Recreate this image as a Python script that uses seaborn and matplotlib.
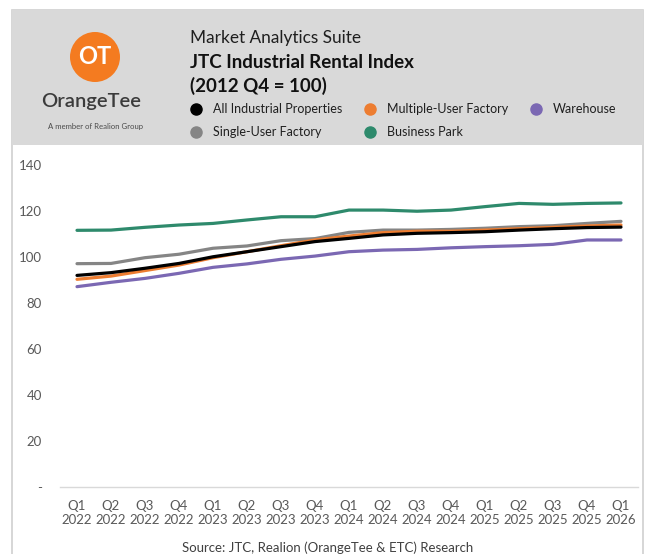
import matplotlib
matplotlib.use("Agg")
import matplotlib.pyplot as plt
from matplotlib.patches import Rectangle, Ellipse
from matplotlib.lines import Line2D
import seaborn as sns
import pandas as pd

# ---- data ----
quarters = ["Q1\n2022", "Q2\n2022", "Q3\n2022", "Q4\n2022",
            "Q1\n2023", "Q2\n2023", "Q3\n2023", "Q4\n2023",
            "Q1\n2024", "Q2\n2024", "Q3\n2024", "Q4\n2024",
            "Q1\n2025", "Q2\n2025", "Q3\n2025", "Q4\n2025",
            "Q1\n2026"]
all_industrial = [92.0, 93.2, 95.1, 97.2, 100.1, 102.3, 104.5, 106.7,
                  108.1, 109.6, 110.3, 110.6, 111.0, 111.7, 112.3, 112.8, 113.0]
multiple_user = [90.3, 91.7, 94.1, 96.5, 99.7, 102.3, 104.9, 107.4,
                 109.1, 110.6, 111.2, 111.2, 111.7, 112.3, 112.9, 113.5, 113.9]
warehouse = [87.1, 89.0, 90.7, 92.9, 95.5, 97.0, 99.0, 100.4,
             102.3, 103.0, 103.3, 104.0, 104.5, 104.9, 105.5, 107.4, 107.4]
single_user = [97.1, 97.2, 99.7, 101.2, 103.8, 104.8, 107.1, 108.0,
               110.7, 111.7, 111.7, 112.0, 112.5, 113.2, 113.6, 114.6, 115.5]
business_park = [111.6, 111.7, 112.9, 113.9, 114.6, 116.1, 117.5, 117.5,
                 120.4, 120.4, 119.9, 120.4, 121.9, 123.3, 122.9, 123.3, 123.5]

series_names = ["Business Park", "Single-User Factory", "Warehouse",
                "Multiple-User Factory", "All Industrial Properties"]
series_values = [business_park, single_user, warehouse, multiple_user, all_industrial]
colors = {"All Industrial Properties": "#000000",
          "Multiple-User Factory": "#ED7D31",
          "Warehouse": "#7B68B3",
          "Single-User Factory": "#858585",
          "Business Park": "#2E8A6C"}
y_ticks = [0, 20, 40, 60, 80, 100, 120, 140]
y_tick_labels = ["-", "20", "40", "60", "80", "100", "120", "140"]

rows = []
for name, vals in zip(series_names, series_values):
    for q, v in zip(quarters, vals):
        rows.append({"Quarter": q, "Index": v, "Series": name})
df = pd.DataFrame(rows)

sns.set_theme(style="white")
plt.rcParams["font.family"] = ["Lato", "DejaVu Sans"]

W, H = 648, 554
fig = plt.figure(figsize=(W / 100, H / 100), dpi=100)
fig.patch.set_facecolor("white")

def fx(x):
    return x / W

def fy(y):
    return 1 - y / H

# card and header
fig.patches.append(Rectangle((fx(12), -0.01), fx(631), fy(10) + 0.01,
                             transform=fig.transFigure, facecolor="white",
                             edgecolor="#cfcfcf", linewidth=1.2, zorder=-2))
fig.patches.append(Rectangle((fx(12), fy(145)), fx(631), (145 - 10) / H,
                             transform=fig.transFigure, facecolor="#d9d9d9",
                             edgecolor="none", zorder=-1))

# logo
fig.patches.append(Ellipse((fx(95), fy(57)), 50 / W, 50 / H, transform=fig.transFigure,
                           facecolor="#F47B20", edgecolor="none", zorder=1))
fig.text(fx(95), fy(57), "OT", color="white", fontsize=17, fontweight="bold",
         ha="center", va="center", zorder=2)
fig.text(fx(91), fy(101), "OrangeTee", color="#3b3b3b", fontsize=14.5,
         fontweight="semibold", ha="center", va="center")
fig.text(fx(95), fy(126), "A member of Realion Group", color="#4a4a4a",
         fontsize=5.6, ha="center", va="center")

# titles
fig.text(fx(190), fy(38), "Market Analytics Suite", color="#1f1f1f",
         fontsize=12.4, ha="left", va="center")
fig.text(fx(190), fy(62), "JTC Industrial Rental Index", color="#111111",
         fontsize=13.5, fontweight="bold", ha="left", va="center")
fig.text(fx(190), fy(86), "(2012 Q4 = 100)", color="#111111",
         fontsize=13.5, fontweight="bold", ha="left", va="center")

# main axes
ax = fig.add_axes([fx(60), fy(487), (638 - 60) / W, (487 - 165) / H], zorder=2)
ax.patch.set_alpha(0)
sns.lineplot(data=df, x="Quarter", y="Index", hue="Series",
             hue_order=series_names, palette=colors, linewidth=2.3,
             legend=False, ax=ax, sort=False)
ax.set_xlim(-0.5, len(quarters) - 0.5)
ax.set_ylim(0, 140)
ax.set_yticks(y_ticks)
ax.set_yticklabels(y_tick_labels)
ax.set_xlabel("")
ax.set_ylabel("")
for s in ["top", "right", "left"]:
    ax.spines[s].set_visible(False)
ax.spines["bottom"].set_color("#d9d9d9")
ax.spines["bottom"].set_linewidth(1.0)
ax.tick_params(axis="both", length=0, labelsize=9.5, colors="#595959")
ax.tick_params(axis="y", pad=13)
ax.tick_params(axis="x", pad=9)
for lbl in ax.get_xticklabels():
    lbl.set_linespacing(1.25)
ax.grid(False)

# legend (column-major fill with 3 columns)
order = ["All Industrial Properties", "Single-User Factory",
         "Multiple-User Factory", "Business Park", "Warehouse"]
handles = [Line2D([], [], linestyle="none", marker="o", markersize=8,
                  markerfacecolor=colors[n], markeredgecolor=colors[n]) for n in order]
fig.legend(handles, order, ncol=3, loc="upper left",
           bbox_to_anchor=(fx(190), fy(103)), frameon=False, fontsize=9,
           handletextpad=0.85, columnspacing=1.7, labelspacing=0.9,
           handlelength=1.0, borderaxespad=0, borderpad=0,
           labelcolor="#1f1f1f")

fig.text(fx(328), fy(548), "Source: JTC, Realion (OrangeTee & ETC) Research",
         color="#404040", fontsize=9.5, ha="center", va="center")

fig.savefig("out.png", dpi=100, facecolor="white")
